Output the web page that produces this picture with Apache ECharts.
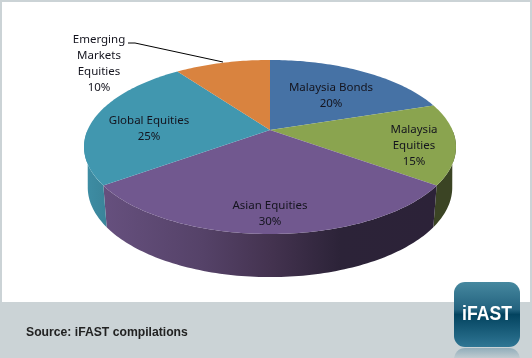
<!DOCTYPE html>
<html>
<head>
<meta charset="utf-8">
<style>html,body{margin:0;padding:0;background:#cbd3d6}#main{width:532px;height:358px}</style>
<script src="https://cdn.jsdelivr.net/npm/echarts@6/dist/echarts.min.js"></script>
</head>
<body>
<div id="main"></div>
<script>
// slices go clockwise from 12 o'clock
var categories = ['Malaysia Bonds', 'Malaysia Equities', 'Asian Equities', 'Global Equities', 'Emerging Markets Equities'];
var values = [20, 15, 30, 25, 10];
var labelLines = [
    ['Malaysia Bonds', '20%'],
    ['Malaysia', 'Equities', '15%'],
    ['Asian Equities', '30%'],
    ['Global Equities', '25%'],
    ['Emerging', 'Markets', 'Equities', '10%']
];
var topColors = ['#4672a5', '#8aa44f', '#71588f', '#4197af', '#d9833f'];

var labelAt = [[331, 96], [414, 146], [270, 214], [149, 129], [99, 64]];
var total = values.reduce(function (a, b) { return a + b; }, 0);

// perspective projection of the round pie on to the screen
function project(t, low) {
    var u = Math.sin(t), v = Math.cos(t), den = 1 + 0.195 * v;
    var sx = low ? 0.98 : 1, sy = low ? 1.03 : 1, dy = low ? 40 : 0;
    return [270 + 182.4 * sx * u / den, 130 + dy - 83.7 * sy * v / den];
}
function sliceAngles(i) {
    var before = 0;
    for (var k = 0; k < i; k++) before += values[k];
    return [before / total * 2 * Math.PI, (before + values[i]) / total * 2 * Math.PI];
}
function edge(a, b, low) {
    var pts = [], n = Math.max(2, Math.ceil((b - a) / 0.02));
    for (var k = 0; k <= n; k++) pts.push(project(a + (b - a) * k / n, low));
    return pts;
}
function sideColor(i) {
    if (i === 1) return '#3b4424';
    if (i === 3) return new echarts.graphic.LinearGradient(0, 0, 1, 0, [
        { offset: 0, color: '#3e8ea5' }, { offset: 1, color: '#3a8499' }]);
    return new echarts.graphic.LinearGradient(0, 0, 1, 0, [
        { offset: 0, color: '#66507e' },
        { offset: 0.3, color: '#554268' },
        { offset: 0.5, color: '#443350' },
        { offset: 0.71, color: '#2c2338' },
        { offset: 1, color: '#2c2238' }]);
}

var option = {
    backgroundColor: '#cbd3d6',
    animation: false,
    graphic: [
        { type: 'rect', z: 0, shape: { x: 2, y: 2, width: 528, height: 300 }, style: { fill: '#ffffff' }, silent: true },
        { type: 'text', z: 1, x: 26, y: 333, style: { text: 'Source: iFAST compilations', font: 'bold 12.2px "Liberation Sans"', fill: '#222222', verticalAlign: 'middle' } },
        { type: 'rect', z: 10, shape: { x: 454, y: 348, width: 66, height: 64, r: 11 }, style: {
            fill: new echarts.graphic.LinearGradient(0, 0, 0, 1, [
                { offset: 0, color: 'rgba(50,110,140,0.38)' },
                { offset: 0.17, color: 'rgba(50,110,140,0.05)' },
                { offset: 1, color: 'rgba(50,110,140,0)' }])
        } },
        { type: 'rect', z: 10, shape: { x: 454, y: 282, width: 66, height: 65, r: 11 }, style: {
            fill: new echarts.graphic.LinearGradient(0, 0, 0, 1, [
                { offset: 0, color: '#46889f' },
                { offset: 0.42, color: '#24637f' },
                { offset: 0.5, color: '#03435f' },
                { offset: 1, color: '#2f7694' }])
        } },
        { type: 'text', z: 11, x: 487, y: 314, scaleX: 0.88, style: { x: 0, y: 0, text: 'iFAST', font: 'bold 20px "Liberation Sans"', fill: '#ffffff', align: 'center', verticalAlign: 'middle' } }
    ],
    series: [
        {
            // sides first, the top faces are painted over them
            type: 'custom',
            coordinateSystem: 'none',
            silent: true,
            z: 2,
            data: values.map(function (v, i) { return [v, i]; }),
            renderItem: function (params) {
                var i = params.dataIndex, r = sliceAngles(i);
                var a = Math.max(r[0], Math.PI * 0.5), b = Math.min(r[1], Math.PI * 1.5);
                if (b <= a) return { type: 'group', children: [] };
                // lower rim stops at its widest point, so the outline has no notch
                var lowA = Math.max(a, Math.PI * 0.56), lowB = Math.min(b, Math.PI * 1.44);
                return {
                    type: 'polygon',
                    shape: { points: edge(a, b, false).concat(edge(lowA, lowB, true).reverse()) },
                    style: { fill: sideColor(i) }
                };
            }
        },
        {
            type: 'custom',
            coordinateSystem: 'none',
            silent: true,
            z: 3,
            data: values.map(function (v, i) { return [v, i]; }),
            renderItem: function (params) {
                var i = params.dataIndex, r = sliceAngles(i);
                return {
                    type: 'polygon',
                    shape: { points: [[270, 130]].concat(edge(r[0], r[1], false)) },
                    style: { fill: topColors[i] }
                };
            }
        },
        {
            type: 'custom',
            coordinateSystem: 'none',
            silent: true,
            z: 4,
            data: categories.map(function (c, i) { return [values[i], i]; }),
            renderItem: function (params) {
                var i = params.dataIndex;
                var children = [{
                    type: 'text',
                    x: labelAt[i][0],
                    y: labelAt[i][1],
                    style: {
                        text: labelLines[i].join('\n'),
                        font: '11.5px "Noto Sans"',
                        lineHeight: 16,
                        fill: '#14141e',
                        align: 'center',
                        verticalAlign: 'middle'
                    }
                }];
                if (i === 4) {
                    children.push({
                        type: 'polyline',
                        shape: { points: [[128, 43], [135, 43], [223, 62]] },
                        style: { stroke: '#000000', lineWidth: 1, fill: null }
                    });
                }
                return { type: 'group', children: children };
            }
        }
    ]
};

var chart = echarts.init(document.getElementById('main'));
chart.setOption(option);
</script>
</body>
</html>
